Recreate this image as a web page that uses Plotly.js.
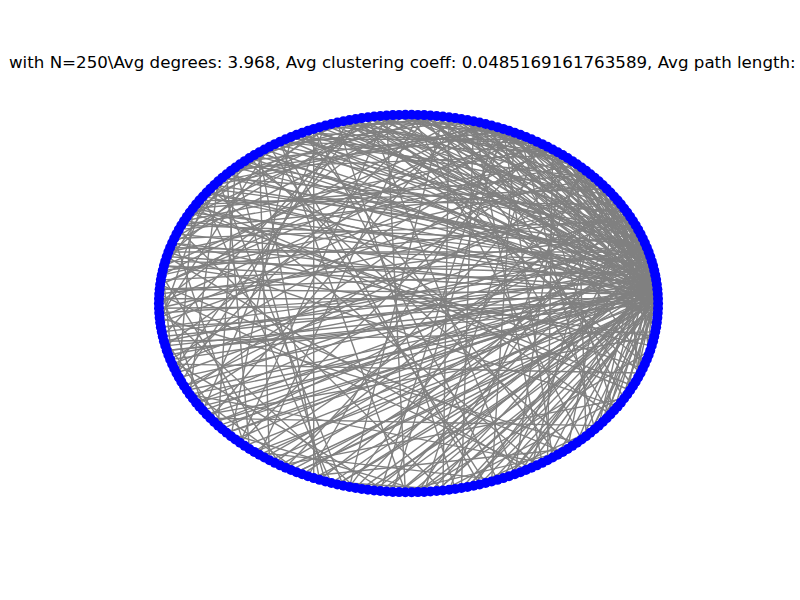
<!DOCTYPE html>
<html>
<head>
<meta charset="utf-8">
<script src="https://cdn.plot.ly/plotly-3.0.1.min.js"></script>
<style>
  html, body { margin: 0; padding: 0; background: #fff; }
  #graph { width: 800px; height: 600px; }
</style>
</head>
<body>
<div id="graph"></div>
<script>
// -----------------------
// Data
// -----------------------
const N_NODES = 250;
const titleText = "with N=250\\Avg degrees: 3.968, Avg clustering coeff: 0.0485169161763589, Avg path length: 3.9";

// edge list (node ids in circular order, 0 at the right)
const edges = [
  [1,0],[2,0],
  [3,0],[3,1],[4,0],[4,2],[5,0],[5,1],[6,1],[6,3],[7,0],[7,4],[8,2],[8,5],[9,0],[9,6],
  [10,1],[10,3],[11,0],[11,7],[12,2],[12,8],[13,1],[13,9],[14,0],[14,4],[15,3],[15,10],
  [16,0],[16,11],[17,1],[17,5],[18,2],[18,12],[19,6],[19,14],[20,0],[20,13],[21,1],[21,15],
  [22,4],[22,9],[23,2],[23,17],[24,6],[24,7],[25,3],[25,19],[26,1],[26,11],[27,8],[27,20],
  [28,0],[28,22],[29,2],[29,16],[30,5],[30,24],[31,1],[31,10],[32,3],[32,27],[33,6],[33,18],
  [34,3],[34,29],[35,2],[35,21],[36,1],[36,13],[37,9],[37,30],[38,0],[38,25],[39,4],[39,33],
  [40,7],[40,12],[41,2],[41,35],[42,1],[42,26],[43,5],[43,14],[44,10],[44,38],[45,3],[45,20],
  [46,1],[46,41],[47,5],[47,31],[48,0],[48,16],[49,2],[49,43],[50,8],[50,36],[51,1],[51,23],
  [52,30],[52,45],[53,4],[53,11],[54,2],[54,28],[55,6],[55,49],[56,8],[56,19],[57,1],[57,34],
  [58,3],[58,52],[59,12],[59,40],[60,0],[60,2],[61,7],[61,55],[62,1],[62,17],[63,9],[63,47],
  [64,41],[64,32],[65,27],[65,58],[66,4],[66,39],[67,1],[67,15],[68,13],[68,61],[69,3],[69,8],
  [70,3],[70,44],[71,2],[71,64],[72,5],[72,26],[73,1],[73,68],[74,35],[74,21],[75,6],[75,50],
  [76,10],[76,37],[77,11],[77,72],[78,1],[78,4],[79,18],[79,56],[80,40],[80,67],[81,3],[81,24],
  [82,11],[82,75],[83,1],[83,42],[84,37],[84,29],[85,16],[85,79],[86,14],[86,53],[87,5],[87,83],
  [88,0],[88,1],[89,7],[89,62],[90,3],[90,85],[91,2],[91,46],[92,16],[92,71],[93,7],[93,36],
  [94,45],[94,89],[95,4],[95,57],[96,9],[96,20],[97,49],[97,92],[98,10],[98,48],[99,12],[99,81],
  [100,1],[100,6],[101,3],[101,96],[102,22],[102,65],[103,26],[103,99],[104,2],[104,30],
  [105,8],[105,74],[106,63],[106,102],[107,5],[107,39],[108,34],[108,13],[109,27],[109,87],
  [110,4],[110,105],[111,67],[111,18],[112,1],[112,60],[113,9],[113,110],[114,11],[114,33],
  [115,3],[115,77],[116,6],[116,113],[117,50],[117,2],[118,19],[118,94],[119,29],[119,54],
  [120,10],[120,116],[121,48],[121,44],[122,2],[122,7],[123,15],[123,108],[124,1],[124,120],
  [125,43],[125,63],[126,0],[126,23],[127,5],[127,124],[128,38],[128,86],[129,31],[129,100],
  [130,1],[130,9],[131,6],[131,127],[132,4],[132,70],[133,12],[133,129],[134,2],[134,51],
  [135,0],[135,1],[136,8],[136,131],[137,3],[137,41],[138,25],[138,118],[139,70],[139,135],
  [140,20],[140,59],[141,6],[141,104],[142,72],[142,139],[143,14],[143,28],[144,39],[144,3],
  [145,1],[145,97],[146,35],[146,141],[147,4],[147,19],[148,2],[148,144],[149,12],[149,76],
  [150,7],[150,122],[151,54],[151,147],[152,3],[152,10],[153,4],[153,93],[154,17],[154,150],
  [155,2],[155,5],[156,82],[156,132],[157,9],[157,153],[158,66],[158,40],[159,4],[159,111],
  [160,95],[160,157],[161,1],[161,22],[162,61],[162,6],[163,13],[163,159],[164,3],[164,88],
  [165,23],[165,162],[166,11],[166,119],[167,2],[167,34],[168,5],[168,165],[169,0],[169,1],
  [170,11],[170,143],[171,46],[171,168],[172,1],[172,78],[173,88],[173,16],[174,93],[174,170],
  [175,8],[175,101],[176,2],[176,4],[177,97],[177,173],[178,31],[178,57],[179,20],[179,126],
  [180,6],[180,176],[181,1],[181,2],[182,7],[182,179],[183,3],[183,48],[184,15],[184,137],
  [185,47],[185,182],[186,1],[186,7],[187,84],[187,66],[188,4],[188,185],[189,0],[189,24],
  [190,41],[190,155],[191,10],[191,188],[192,2],[192,3],[193,56],[193,109],[194,32],[194,174],
  [195,74],[195,191],[196,5],[196,52],[197,5],[197,2],[198,12],[198,194],[199,1],[199,84],
  [200,86],[200,197],[201,0],[201,45],[202,78],[202,161],[203,18],[203,200],[204,1],[204,4],
  [205,36],[205,69],[206,7],[206,203],[207,2],[207,115],[208,123],[208,27],[209,99],[209,206],
  [210,52],[210,145],[211,9],[211,38],[212,47],[212,209],[213,80],[213,5],[214,121],[214,186],
  [215,23],[215,171],[216,90],[216,212],[217,9],[217,128],[218,4],[218,62],[219,33],[219,216],
  [220,1],[220,3],[221,44],[221,198],[222,14],[222,151],[223,2],[223,11],[224,8],[224,221],
  [225,60],[225,91],[226,6],[226,43],[227,114],[227,224],[228,1],[228,2],[229,53],[229,166],
  [230,8],[230,193],[231,104],[231,229],[232,59],[232,103],[233,8],[233,4],[234,21],[234,231],
  [235,68],[235,138],[236,105],[236,234],[237,71],[237,50],[238,2],[238,6],[239,16],[239,237],
  [240,1],[240,189],[241,112],[241,3],[242,5],[242,240],[243,150],[243,117],[244,133],[244,28],
  [245,58],[245,243],[246,10],[246,73],[247,81],[247,246],[248,64],[248,33],[249,0],[249,13]
];

// -----------------------
// Circular layout (node 0 at angle 0, counter-clockwise)
// -----------------------
const nodeX = [];
const nodeY = [];
for (let i = 0; i < N_NODES; i++) {
  const t = 2 * Math.PI * i / N_NODES;
  nodeX.push(Math.cos(t));
  nodeY.push(Math.sin(t));
}

const ex = [], ey = [];
for (const [a, b] of edges) {
  ex.push(nodeX[a], nodeX[b], null);
  ey.push(nodeY[a], nodeY[b], null);
}

const edgeTrace = {
  x: ex, y: ey,
  type: "scatter",
  mode: "lines",
  line: { color: "#808080", width: 1.4 },
  hoverinfo: "skip"
};

const nodeTrace = {
  x: nodeX, y: nodeY,
  type: "scatter",
  mode: "markers",
  marker: { color: "#0000ff", size: 10, line: { width: 0 } },
  cliponaxis: false,
  hoverinfo: "skip"
};

const layout = {
  width: 800,
  height: 600,
  margin: { l: 109, r: 92, t: 77, b: 70 },
  paper_bgcolor: "#ffffff",
  plot_bgcolor: "#ffffff",
  showlegend: false,
  hovermode: false,
  font: { family: "DejaVu Sans", color: "#000000" },
  title: {
    text: titleText,
    font: { family: "DejaVu Sans", size: 16.67, color: "#000000" },
    xref: "container", x: 9 / 800, xanchor: "left",
    yref: "container", y: 1 - 62 / 600, yanchor: "middle"
  },
  xaxis: { range: [-1.2, 1.2], visible: false, fixedrange: true },
  yaxis: { range: [-1.2, 1.2], visible: false, fixedrange: true }
};

Plotly.newPlot("graph", [edgeTrace, nodeTrace], layout, { displayModeBar: false, staticPlot: true });
</script>
</body>
</html>
